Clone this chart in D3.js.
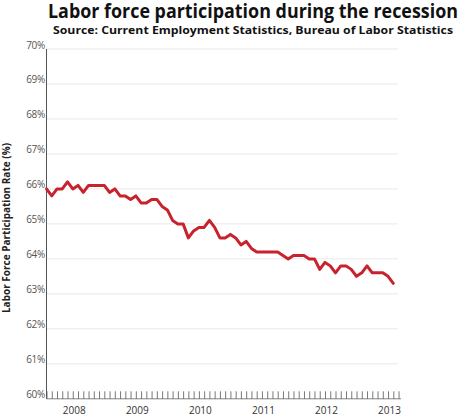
<!DOCTYPE html>
<html>
<head>
<meta charset="utf-8">
<script src="https://cdn.jsdelivr.net/npm/d3@7/dist/d3.min.js"></script>
<style>
  html, body { margin: 0; padding: 0; background: #fff; }
  svg { display: block; }
  text { font-family: "Open Sans", "Noto Sans", sans-serif; }
</style>
</head>
<body>
<svg id="chart" width="474" height="416"></svg>
<script>
// ---- Data ----
const title = "Labor force participation during the recession";
const subtitle = "Source: Current Employment Statistics, Bureau of Labor Statistics";
const yAxisTitle = "Labor Force Participation Rate (%)";

// monthly categories, Sep 2007 .. Mar 2013
const months = d3.timeMonth.range(new Date(2007, 8, 1), new Date(2013, 3, 1))
  .map(d3.timeFormat("%b %Y"));

// labor force participation rate (%) per month
const rates = [
  66.0, 65.8, 66.0, 66.0,                                           // 2007 Sep-Dec
  66.2, 66.0, 66.1, 65.9, 66.1, 66.1, 66.1, 66.1, 65.9, 66.0, 65.8, 65.8, // 2008
  65.7, 65.8, 65.6, 65.6, 65.7, 65.7, 65.5, 65.4, 65.1, 65.0, 65.0, 64.6, // 2009
  64.8, 64.9, 64.9, 65.1, 64.9, 64.6, 64.6, 64.7, 64.6, 64.4, 64.5, 64.3, // 2010
  64.2, 64.2, 64.2, 64.2, 64.2, 64.1, 64.0, 64.1, 64.1, 64.1, 64.0, 64.0, // 2011
  63.7, 63.9, 63.8, 63.6, 63.8, 63.8, 63.7, 63.5, 63.6, 63.8, 63.6, 63.6, // 2012
  63.6, 63.5, 63.3                                                  // 2013 Jan-Mar
];

const yTicks = [60, 61, 62, 63, 64, 65, 66, 67, 68, 69, 70];
const yearLabels = ["2008", "2009", "2010", "2011", "2012", "2013"];
const yearLabelMonths = ["Feb 2008", "Feb 2009", "Feb 2010", "Feb 2011", "Feb 2012", "Feb 2013"];

// ---- Layout ----
const svg = d3.select("#chart");
const left = 46.5, right = 393.3;
const x = d3.scaleLinear().domain([0, months.length - 1]).range([left, right]);
const xm = m => x(months.indexOf(m));
const y = d3.scaleLinear().domain([60, 70]).range([398.8, 49]);
const baseY = y(60);

// Title
svg.append("text")
  .attr("x", 253).attr("y", 18)
  .attr("text-anchor", "middle")
  .attr("font-size", 19).attr("font-weight", 700).attr("fill", "#111")
  .attr("textLength", 410).attr("lengthAdjust", "spacingAndGlyphs")
  .text(title);

svg.append("text")
  .attr("x", 253).attr("y", 33.5)
  .attr("text-anchor", "middle")
  .attr("font-size", 11).attr("font-weight", 700).attr("fill", "#111")
  .attr("textLength", 400).attr("lengthAdjust", "spacingAndGlyphs")
  .text(subtitle);

// Gridlines
svg.append("g").selectAll("line")
  .data(yTicks.filter(t => t > 60))
  .join("line")
  .attr("x1", left).attr("x2", 397.7)
  .attr("y1", d => y(d)).attr("y2", d => y(d))
  .attr("stroke", "#c8c8c8").attr("stroke-width", 0.8)
  .attr("stroke-dasharray", "1,1");

// Y tick labels
svg.append("g").selectAll("text")
  .data(yTicks)
  .join("text")
  .attr("x", 45).attr("y", d => y(d) - 0.5)
  .attr("text-anchor", "end")
  .attr("font-size", 10).attr("fill", "#555")
  .attr("letter-spacing", -0.3)
  .text(d => d + "%");

// Y axis title
svg.append("text")
  .attr("transform", "translate(10,228) rotate(-90)")
  .attr("text-anchor", "middle")
  .attr("font-size", 10).attr("font-weight", 700).attr("fill", "#222")
  .text(yAxisTitle);

// Left axis line
svg.append("line")
  .attr("x1", left).attr("x2", left)
  .attr("y1", 49).attr("y2", baseY)
  .attr("stroke", "#555").attr("stroke-width", 1);

// Bottom axis with monthly ticks
const tickIdx = d3.range(0, months.length + 1);
svg.append("line")
  .attr("x1", left).attr("x2", x(months.length) + 2.5)
  .attr("y1", baseY).attr("y2", baseY)
  .attr("stroke", "#666").attr("stroke-width", 0.8);
svg.append("g").selectAll("line")
  .data(tickIdx)
  .join("line")
  .attr("x1", d => x(d) + 0.5).attr("x2", d => x(d) + 0.5)
  .attr("y1", baseY - 7.5).attr("y2", baseY)
  .attr("stroke", "#555").attr("stroke-width", 0.8);

// Year labels
svg.append("g").selectAll("text")
  .data(yearLabels)
  .join("text")
  .attr("x", (d, i) => xm(yearLabelMonths[i]) + 1.5)
  .attr("y", 413.5)
  .attr("text-anchor", "middle")
  .attr("font-size", 10).attr("fill", "#333")
  .text(d => d);

// Line
const line = d3.line()
  .x((d, i) => x(i))
  .y(d => y(d));
svg.append("path")
  .datum(rates)
  .attr("d", line)
  .attr("fill", "none")
  .attr("stroke", "#c8232c")
  .attr("stroke-width", 3)
  .attr("stroke-linejoin", "round")
  .attr("stroke-linecap", "round");
</script>
</body>
</html>
